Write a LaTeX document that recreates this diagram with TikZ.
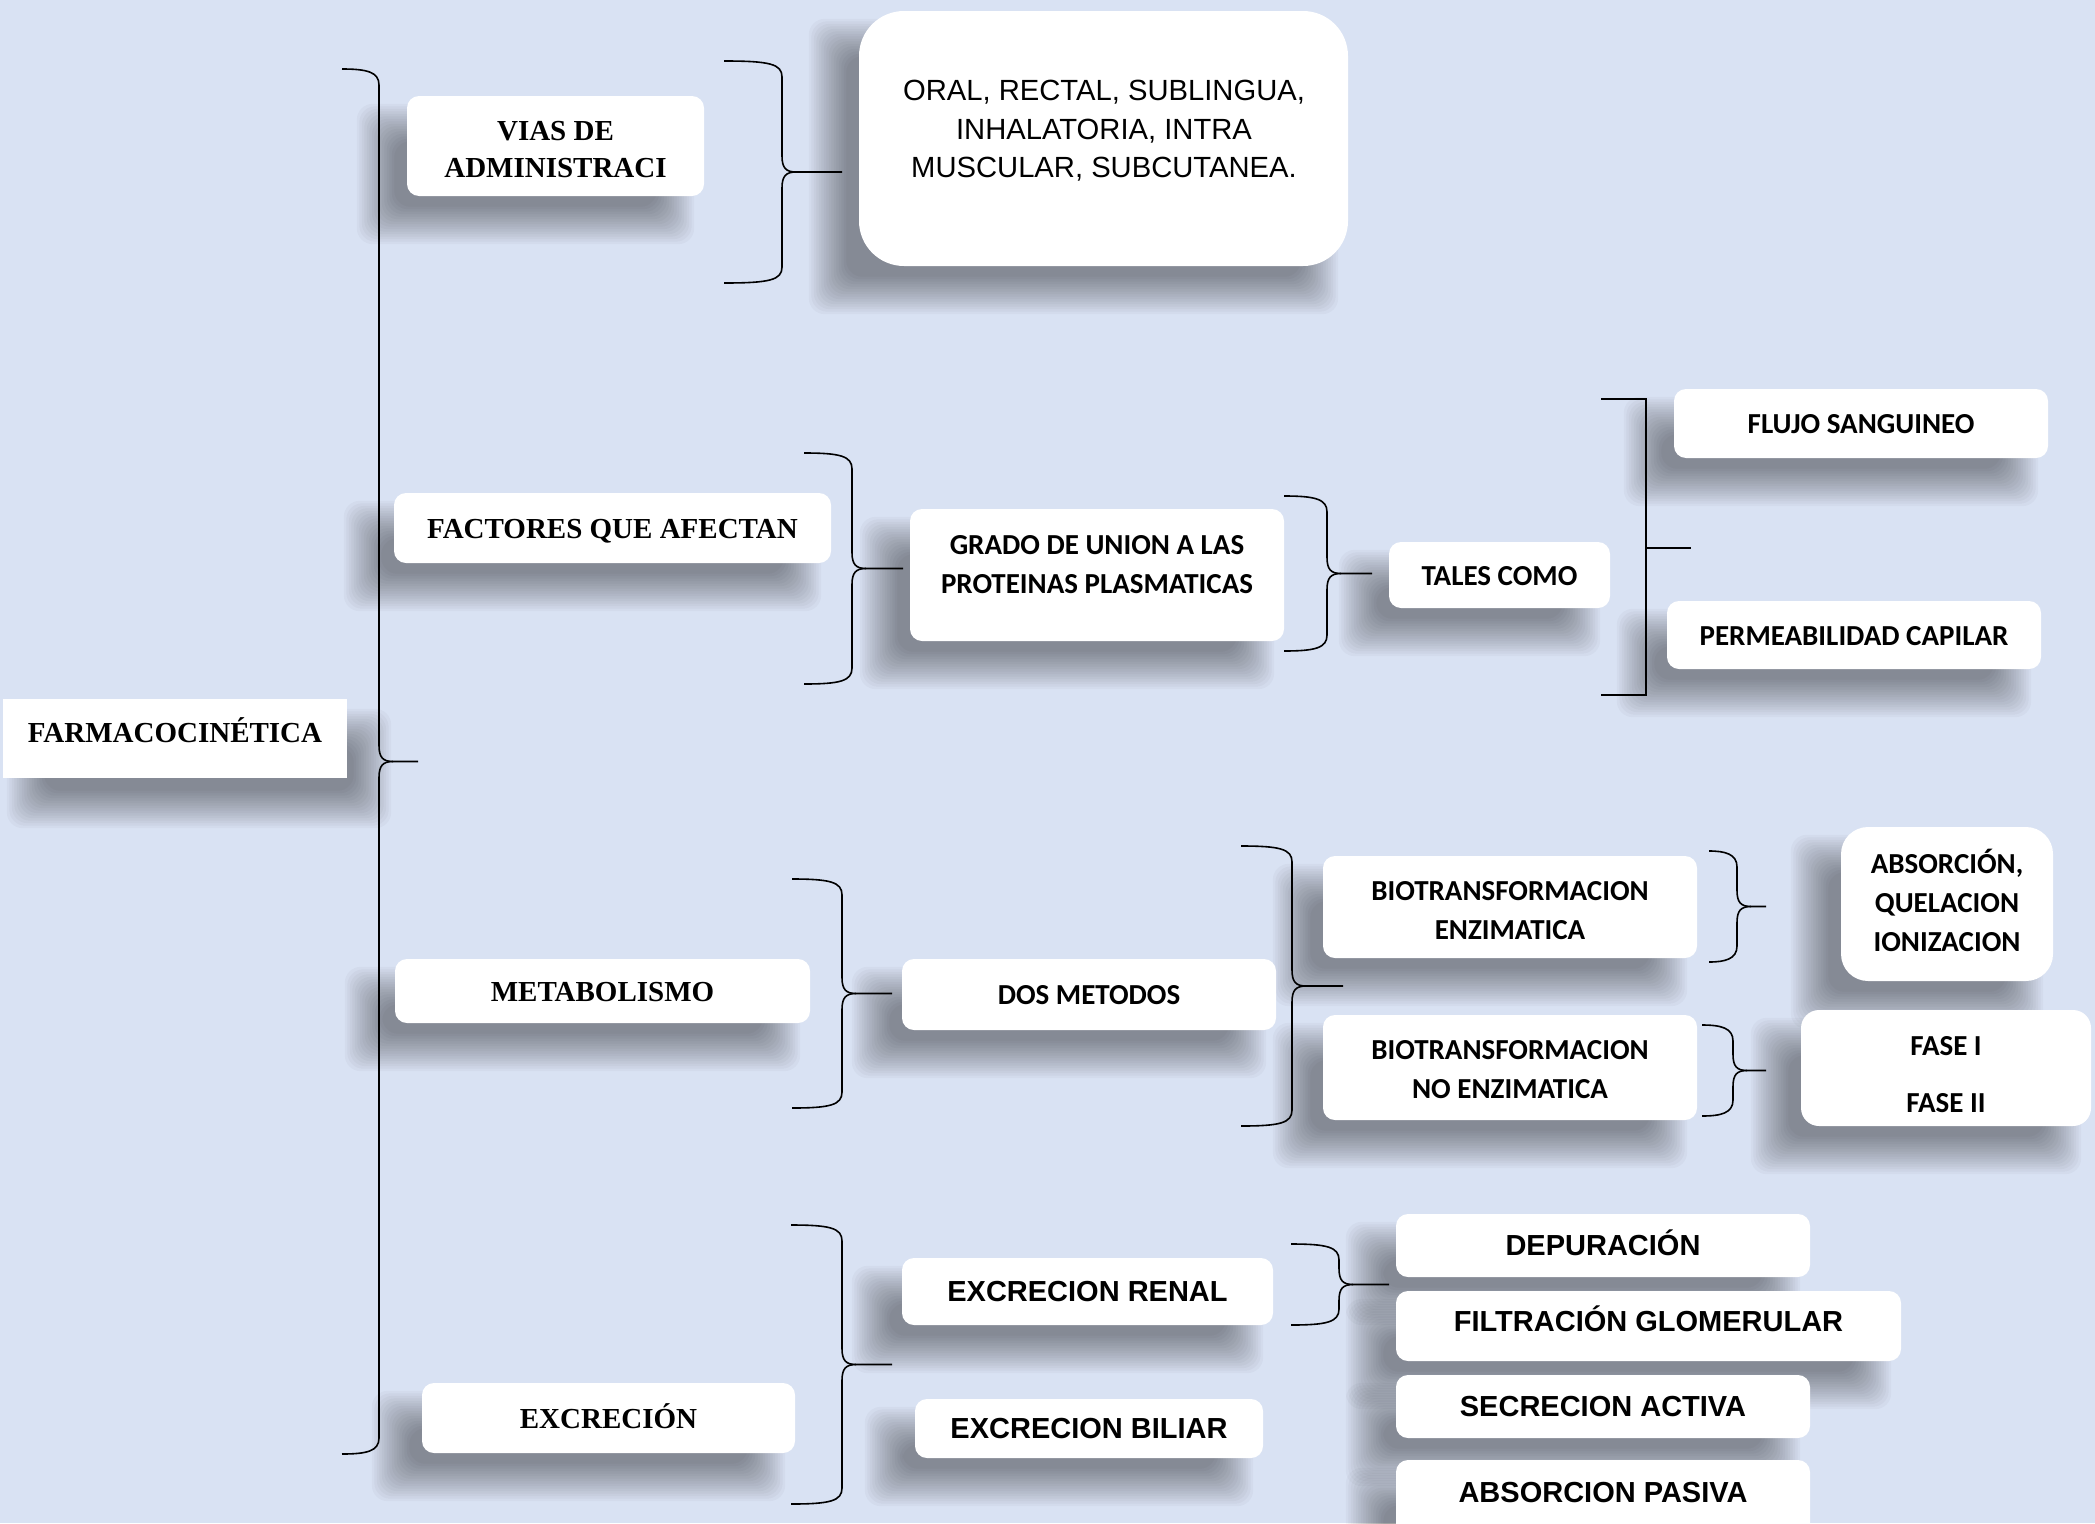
\documentclass[tikz,border=0pt]{standalone}
\usepackage{fontspec}
\setmainfont{Liberation Serif}
\newfontfamily\ftimes{Liberation Serif}
\newfontfamily\fcarl{Carlito}
\newfontfamily\farial{Liberation Sans}
\definecolor{bgc}{HTML}{D9E2F3}
\pgfdeclarelayer{back}
\pgfdeclarelayer{shd}
\pgfsetlayers{back,shd,main}
\newcommand\cbr[5]{% x0 x1 x2 ytop ybot
  \draw[brc] (#1,#4) .. controls ({#2-12},#4) and (#2,{#4+3}) .. (#2,{#4+16})
    -- (#2,{(#4+#5)/2-16}) .. controls (#2,{(#4+#5)/2-4}) and ({#2+4},{(#4+#5)/2}) .. ({#2+14},{(#4+#5)/2})
    -- (#3,{(#4+#5)/2});
  \draw[brc] (#1,#5) .. controls ({#2-12},#5) and (#2,{#5-3}) .. (#2,{#5-16})
    -- (#2,{(#4+#5)/2+16}) .. controls (#2,{(#4+#5)/2+4}) and ({#2+4},{(#4+#5)/2}) .. ({#2+14},{(#4+#5)/2});
}
% soft shadow of a node: #1 node name, #2 x offset, #3 y offset (down)
\newcommand\shd[3]{%
  \begin{pgfonlayer}{shd}
  \foreach \k in {1,...,16}{%
    \pgfmathsetmacro\ee{20-2.5*(\k-1)}%
    \fill[black, opacity=0.028, rounded corners=16pt]
      ([shift={({#2-\ee},{#3-\ee})}]#1.north west) rectangle
      ([shift={({#2+\ee},{#3+\ee})}]#1.south east);
  }
  \end{pgfonlayer}}
\begin{document}
\begin{tikzpicture}[x=1pt,y=-1pt,
  box/.style={fill=white, rounded corners=12pt, inner sep=0pt, align=center},
  tnr/.style={font=\ftimes\bfseries\fontsize{29}{37}\selectfont},
  cb/.style={font=\fcarl\bfseries\fontsize{29}{39}\selectfont},
  ab/.style={font=\farial\bfseries\fontsize{29}{36}\selectfont},
  ar/.style={font=\farial\fontsize{29.2}{38.5}\selectfont},
  sl/.style={text height=20pt, text depth=0pt},
  txt/.style={inner sep=0pt, align=center},
  brc/.style={draw=black, line width=1.6pt, line join=round},
]
\useasboundingbox (0,0) rectangle (2095,1523);
\begin{pgfonlayer}{back}
\fill[bgc] (0,0) rectangle (2095,1523);
\end{pgfonlayer}

% left column
\node[box, rounded corners=0pt, minimum width=344pt, minimum height=79pt] (farm) at (175,738.5) {};
\node[txt, tnr, sl] (farmt) at (175,732) {FARMACOCINÉTICA};

\node[box, minimum width=297pt, minimum height=100pt] (vias) at (555.5,146) {};
\node[txt, tnr] (viast) at (555.5,149.5) {VIAS DE\\ADMINISTRACI};
\node[box, tnr, sl, minimum width=437pt, minimum height=70pt] (fact) at (612.5,528) {FACTORES QUE AFECTAN};
\node[box, tnr, sl, minimum width=415pt, minimum height=64pt] (metab) at (602.5,991) {METABOLISMO};
\node[box, tnr, sl, minimum width=373pt, minimum height=70pt] (excr) at (608.5,1418) {EXCRECIÓN};

% top box
\node[box, rounded corners=45pt, minimum width=489pt, minimum height=255pt] (vial) at (1103.5,138.5) {};
\node[txt, ar] (vialt) at (1104,131) {ORAL, RECTAL, SUBLINGUA,\\INHALATORIA, INTRA\\MUSCULAR, SUBCUTANEA.};

% factores branch
\node[box, minimum width=374pt, minimum height=132pt] (grado) at (1097,575) {};
\node[txt, cb] (gradot) at (1097,564.5) {GRADO DE UNION A LAS\\PROTEINAS PLASMATICAS};
\node[box, cb, sl, minimum width=221pt, minimum height=66pt] (tales) at (1499.5,575) {TALES COMO};
\node[box, cb, sl, minimum width=374pt, minimum height=69pt] (flujo) at (1861,423.5) {FLUJO SANGUINEO};
\node[box, cb, sl, minimum width=374pt, minimum height=68pt] (perm) at (1854,635) {PERMEABILIDAD CAPILAR};

% metabolismo branch
\node[box, cb, sl, minimum width=374pt, minimum height=71pt] (dos) at (1089,994.5) {DOS METODOS};
\node[box, minimum width=374pt, minimum height=102pt] (bioe) at (1510,907) {};
\node[txt, cb] (bioet) at (1510,911) {BIOTRANSFORMACION\\ENZIMATICA};
\node[box, minimum width=374pt, minimum height=105pt] (bion) at (1510,1067.5) {};
\node[txt, cb] (biont) at (1510,1070) {BIOTRANSFORMACION\\NO ENZIMATICA};
\node[box, rounded corners=27pt, minimum width=212pt, minimum height=154pt] (absq) at (1947,904) {};
\node[txt, cb] (absqt) at (1947,900) {ABSORCIÓN,\\QUELACION\\IONIZACION};
\node[box, rounded corners=18pt, minimum width=290pt, minimum height=116pt] (fase) at (1946,1068) {};
\node[txt, cb] (faset) at (1946,1074.5) {FASE I\\[18pt]FASE II};

% excrecion branch
\node[box, ab, sl, minimum width=371pt, minimum height=67pt] (renal) at (1087.5,1291.5) {EXCRECION RENAL};
\node[box, ab, sl, minimum width=348pt, minimum height=59pt] (biliar) at (1089,1428.5) {EXCRECION BILIAR};
\node[box, ab, sl, minimum width=414pt, minimum height=63pt] (depur) at (1603,1245.5) {DEPURACIÓN};
\node[box, minimum width=505pt, minimum height=70pt] (filt) at (1648.5,1326) {};
\node[txt, ab, sl] (filtt) at (1648.5,1321) {FILTRACIÓN GLOMERULAR};
\node[box, ab, sl, minimum width=414pt, minimum height=63pt] (secr) at (1603,1406.5) {SECRECION ACTIVA};
\node[box, minimum width=414pt, minimum height=75pt] (abspas) at (1603,1497.5) {};
\node[txt, ab, sl] (abspast) at (1603,1492) {ABSORCION PASIVA};

% shadows
\shd{farm}{24}{30}
\foreach \n in {vias,fact,metab,excr,vial,grado,tales,flujo,perm,dos,bioe,bion,absq,fase,renal,biliar,depur,filt,secr,abspas}{\shd{\n}{-30}{28}}

% braces
\cbr{342}{379}{418}{69}{1454}
\cbr{724}{782}{842}{61}{283}
\cbr{804}{852}{903}{453}{684}
\cbr{1284}{1327}{1372}{496}{651}
\cbr{792}{842}{892}{879}{1108}
\cbr{1241}{1292}{1343}{846}{1126}
\cbr{1709}{1737}{1766}{851}{962}
\cbr{1702}{1733}{1766}{1025}{1116}
\cbr{791}{842}{892}{1225}{1504}
\cbr{1291}{1339}{1389}{1244}{1325}

% square bracket
\draw[brc, line join=miter] (1601,399) -- (1646,399) -- (1646,695) -- (1601,695);
\draw[brc] (1646,548) -- (1691,548);
\end{tikzpicture}
\end{document}
